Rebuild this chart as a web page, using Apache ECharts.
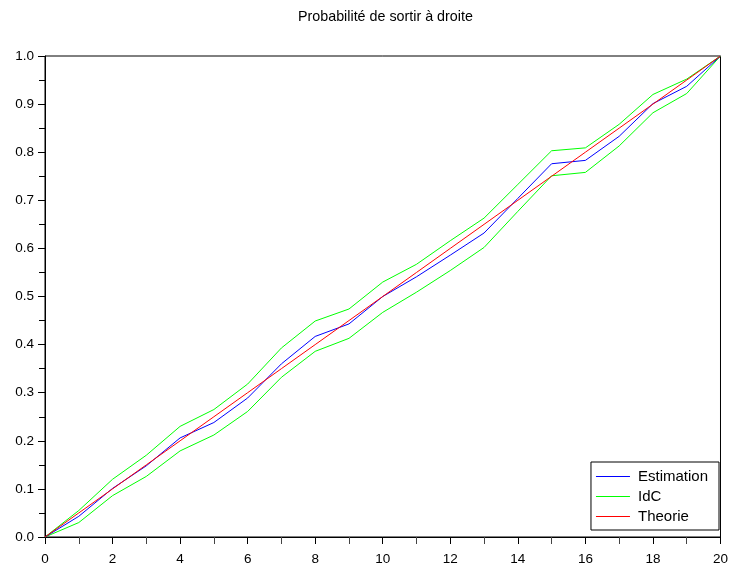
<!DOCTYPE html>
<html>
<head>
<meta charset="utf-8">
<script src="https://cdn.jsdelivr.net/npm/echarts@6/dist/echarts.min.js"></script>
<style>
html,body{margin:0;padding:0;background:#fff;}
#chart{width:731px;height:567px;}
</style>
</head>
<body>
<div id="chart"></div>
<script>
var xValues = [0,1,2,3,4,5,6,7,8,9,10,11,12,13,14,15,16,17,18,19,20];
var estimation = [0, 0.043, 0.101, 0.148, 0.206, 0.238, 0.289, 0.360, 0.417, 0.443, 0.500, 0.541, 0.586, 0.632, 0.704, 0.776, 0.783, 0.833, 0.901, 0.937, 1.0];
var idcUpper = [0, 0.055, 0.120, 0.170, 0.230, 0.265, 0.318, 0.393, 0.449, 0.474, 0.530, 0.567, 0.616, 0.663, 0.733, 0.803, 0.809, 0.858, 0.920, 0.952, 1.0];
var idcLower = [0, 0.030, 0.086, 0.126, 0.179, 0.212, 0.261, 0.332, 0.386, 0.413, 0.467, 0.509, 0.554, 0.602, 0.677, 0.751, 0.758, 0.813, 0.882, 0.922, 1.0];
var theorie = [0, 0.05, 0.10, 0.15, 0.20, 0.25, 0.30, 0.35, 0.40, 0.45, 0.50, 0.55, 0.60, 0.65, 0.70, 0.75, 0.80, 0.85, 0.90, 0.95, 1.0];
var legendNames = ['Estimation', 'IdC', 'Theorie'];

var colors = {Estimation: '#0000ff', IdC: '#00ff00', Theorie: '#ff0000'};
function pairs(ys){ return xValues.map(function(x,i){ return [x, ys[i]]; }); }

var font = 'Liberation Sans, Arial, sans-serif';
var chart = echarts.init(document.getElementById('chart'), null, {renderer:'canvas'});
function lineSeries(name, data){
  var color = colors[name];
  return {
    name: name, type: 'line', data: pairs(data), showSymbol: false, symbol: 'none',
    lineStyle: {color: color, width: 1}, itemStyle: {color: color},
    animation: false, z: 2
  };
}
chart.setOption({
  animation: false,
  backgroundColor: '#fff',
  title: {
    text: 'Probabilité de sortir à droite',
    left: 293, top: 5,
    textStyle: {fontFamily: font, fontSize: 14.3, fontWeight: 'normal', color: '#000'}
  },
  grid: {left: 45, right: 6, top: 56, bottom: 30, show: true, borderColor: '#000', borderWidth: 1, backgroundColor: 'transparent'},
  legend: {
    orient: 'vertical', right: 12, bottom: 37,
    data: legendNames.map(function(n){
      return {name: n, icon: 'rect', itemStyle: {color: colors[n], borderWidth: 0}};
    }),
    itemWidth: 34, itemHeight: 1, itemGap: 5,
    backgroundColor: '#fff', borderColor: '#000', borderWidth: 1,
    padding: [7, 11, 6, 5],
    textStyle: {fontFamily: font, fontSize: 15, color: '#000', padding: [0, 0, 0, 3]},
    selectedMode: false
  },
  xAxis: {
    type: 'value', min: 0, max: 20, interval: 2,
    axisLine: {show: true, lineStyle: {color: '#000', width: 1}},
    axisTick: {show: true, inside: false, length: 7, lineStyle: {color: '#000'}},
    minorTick: {show: true, splitNumber: 2, length: 7, lineStyle: {color: '#444'}},
    splitLine: {show: false},
    axisLabel: {fontFamily: font, fontSize: 13.5, color: '#000', margin: 15}
  },
  yAxis: {
    type: 'value', min: 0, max: 1, interval: 0.1,
    axisLine: {show: true, lineStyle: {color: '#000', width: 1}},
    axisTick: {show: true, inside: false, length: 7, lineStyle: {color: '#000'}},
    minorTick: {show: true, splitNumber: 2, length: 6, lineStyle: {color: '#000'}},
    splitLine: {show: false},
    axisLabel: {fontFamily: font, fontSize: 13.5, color: '#000', margin: 11,
      formatter: function(v){ return v.toFixed(1); }}
  },
  series: [
    lineSeries('IdC', idcUpper),
    lineSeries('IdC', idcLower),
    lineSeries('Estimation', estimation),
    lineSeries('Theorie', theorie)
  ]
});
</script>
</body>
</html>
